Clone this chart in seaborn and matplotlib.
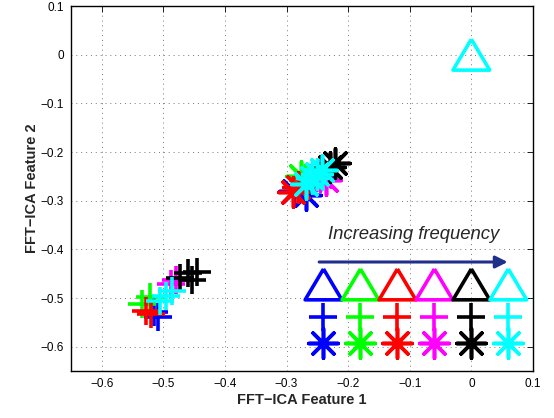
import numpy as np
import pandas as pd
import matplotlib
matplotlib.use('Agg')
import matplotlib.pyplot as plt
from matplotlib.markers import MarkerStyle
import seaborn as sns

## data
colors = ['blue', 'green', 'red', 'magenta', 'black', 'cyan']
palette = {'blue': '#0000ff', 'green': '#00ff00', 'red': '#ff0000',
           'magenta': '#ff00ff', 'black': '#000000', 'cyan': '#00ffff'}

# plus cluster (around -0.5, -0.5)
plus_color = ['blue'] * 2 + ['green'] * 2 + ['red'] * 2 + ['magenta'] * 2 + ['black'] * 4 + ['cyan'] * 3
plus_x = [-0.508, -0.515,
          -0.535, -0.522,
          -0.528, -0.520,
          -0.488, -0.480,
          -0.473, -0.460, -0.454, -0.446,
          -0.505, -0.495, -0.486]
plus_y = [-0.540, -0.528,
          -0.512, -0.497,
          -0.527, -0.533,
          -0.472, -0.462,
          -0.459, -0.449, -0.463, -0.447,
          -0.507, -0.495, -0.485]

# asterisk cluster (around -0.25, -0.25)
star_color = ['blue'] * 2 + ['green'] * 2 + ['red'] * 2 + ['magenta'] * 2 + ['black'] * 2 + ['cyan'] * 4
star_x = [-0.288, -0.268,
          -0.277, -0.270,
          -0.290, -0.282,
          -0.245, -0.236,
          -0.222, -0.230,
          -0.268, -0.259, -0.250, -0.243]
star_y = [-0.280, -0.288,
          -0.250, -0.258,
          -0.282, -0.272,
          -0.250, -0.258,
          -0.222, -0.230,
          -0.266, -0.254, -0.245, -0.236]

# triangle
tri_color = ['cyan']
tri_x = [0.0]
tri_y = [0.0]

# key at bottom right
key_x = [-0.24, -0.18, -0.12, -0.06, 0.0, 0.06]
key_tri_y = -0.472
key_plus_y = -0.538
key_star_y = -0.592

arrow_start = (-0.247, -0.426)
arrow_end = (0.059, -0.426)
arrow_text = 'Increasing frequency'

ticks = [-0.6, -0.5, -0.4, -0.3, -0.2, -0.1, 0, 0.1]
tick_labels = ['\u22120.6', '\u22120.5', '\u22120.4', '\u22120.3', '\u22120.2', '\u22120.1', '0', '0.1']

sns.set_theme(style='white')
plt.rcParams['font.family'] = ['Liberation Sans', 'DejaVu Sans']

fig = plt.figure(figsize=(5.54, 4.18), dpi=100)
ax = fig.add_axes([0.128, 0.1124, 0.834, 0.8732])

tri_marker = MarkerStyle([(0, 0.84), (-1, -0.84), (1, -0.84), (0, 0.84)], fillstyle='none')
star_marker = (8, 2, 0)
lw = 2.6

plus_df = pd.DataFrame({'x': plus_x, 'y': plus_y, 'c': plus_color})
star_df = pd.DataFrame({'x': star_x, 'y': star_y, 'c': star_color})

for c in colors:
    d = plus_df[plus_df.c == c]
    sns.scatterplot(x=d.x, y=d.y, marker='+', s=430, color=palette[c], linewidth=lw, ax=ax, legend=False)
for c in colors:
    d = star_df[star_df.c == c]
    sns.scatterplot(x=d.x, y=d.y, marker=star_marker, s=450, color=palette[c], linewidth=lw, ax=ax, legend=False)
for c, x, y in zip(tri_color, tri_x, tri_y):
    sns.scatterplot(x=[x], y=[y], marker=tri_marker, s=700, color=palette[c], linewidth=lw, ax=ax, legend=False)

## key
for c, x in zip(colors, key_x):
    sns.scatterplot(x=[x], y=[key_tri_y], marker=tri_marker, s=700, color=palette[c], linewidth=lw, ax=ax, legend=False)
    sns.scatterplot(x=[x], y=[key_plus_y], marker='+', s=430, color=palette[c], linewidth=lw, ax=ax, legend=False)
    sns.scatterplot(x=[x], y=[key_star_y], marker=star_marker, s=450, color=palette[c], linewidth=lw, ax=ax, legend=False)

ax.annotate('', xy=arrow_end, xytext=arrow_start,
            arrowprops=dict(arrowstyle='-|>', color='#1f2f8a', lw=2.2, mutation_scale=18,
                            shrinkA=0, shrinkB=0))
ax.text((arrow_start[0] + arrow_end[0]) / 2, -0.37, arrow_text, fontsize=13.3, fontstyle='italic',
        ha='center', va='center')

ax.set_xlim(-0.65, 0.1)
ax.set_ylim(-0.65, 0.1)
ax.set_xticks(ticks)
ax.set_xticklabels(tick_labels)
ax.set_yticks(ticks)
ax.set_yticklabels(tick_labels)
ax.tick_params(direction='in', length=4, width=0.6, top=True, right=True, labelsize=8.5,
               colors='black', pad=5)
ax.grid(True, linestyle=(0, (1, 4)), color='#777777', linewidth=0.7)
for s in ax.spines.values():
    s.set_color('black')
    s.set_linewidth(1.0)

ax.set_xlabel('FFT\u2212ICA Feature 1', fontsize=10.5, fontweight='bold', labelpad=2)
ax.set_ylabel('FFT\u2212ICA Feature 2', fontsize=10.5, fontweight='bold', labelpad=1)

plt.savefig('out.png', dpi=100)
